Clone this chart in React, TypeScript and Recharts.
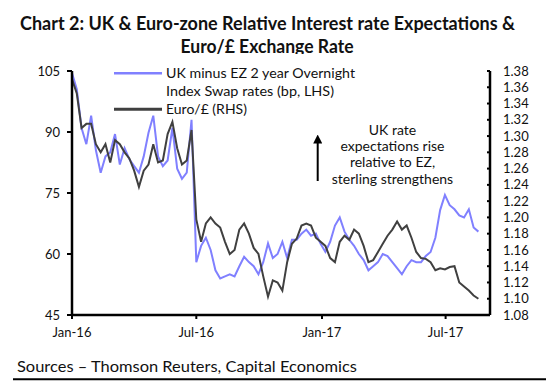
import React from 'react';
import { LineChart, Line, XAxis, YAxis } from 'recharts';

// ---- data ----
const startDate = '2016-01-01'; // weekly observations from this date
const axisEndDate = '2017-09-04';
const tickDates = ['2016-01-01', '2016-07-01', '2017-01-01', '2017-07-01'];
const tickLabels = ['Jan-16', 'Jul-16', 'Jan-17', 'Jul-17'];

// UK minus EZ 2 year Overnight Index Swap rates (bp, LHS)
const ukMinusEz = [
  104.5, 100.5, 91, 87, 94, 85.5, 80, 84, 85, 89.5,
  82, 86, 83.3, 81.6, 80, 84, 89.8, 94, 84, 81.6,
  83, 91, 81, 78.5, 80, 93, 58, 62, 64, 61,
  56, 54, 54.5, 55, 54.5, 57, 59.3, 58, 57, 55,
  58, 62.6, 59, 60, 63, 59, 63.5, 63.5, 65, 66,
  64.5, 65, 62.5, 60.5, 63, 67, 69, 65.5, 63.5, 62,
  60, 58.5, 56, 57, 58, 60, 59.5, 58, 56.5, 55,
  57, 58.5, 58, 58, 59.5, 60.5, 64, 70.8, 74.5, 72,
  71, 69.5, 69, 71, 66.5, 65.5,
];

// Euro/£ (RHS)
const euroGbp = [
  1.37, 1.3525, 1.31, 1.315, 1.315, 1.29, 1.28, 1.29, 1.2675, 1.295,
  1.29, 1.28, 1.2725, 1.2575, 1.2375, 1.2575, 1.265, 1.29, 1.2675, 1.27,
  1.3025, 1.3175, 1.285, 1.265, 1.27, 1.3075, 1.1975, 1.17, 1.1925, 1.2,
  1.1925, 1.1875, 1.17, 1.155, 1.16, 1.185, 1.1925, 1.18, 1.1625, 1.155,
  1.1275, 1.1025, 1.1225, 1.12, 1.11, 1.145, 1.1675, 1.174, 1.19, 1.1925,
  1.19, 1.175, 1.17, 1.165, 1.15, 1.145, 1.17, 1.1775, 1.1725, 1.185,
  1.18, 1.165, 1.145, 1.1475, 1.1575, 1.1675, 1.1775, 1.185, 1.195, 1.185,
  1.19, 1.175, 1.1575, 1.15, 1.149, 1.145, 1.135, 1.1375, 1.136, 1.139,
  1.14, 1.12, 1.115, 1.11, 1.104, 1.1,
];

const leftTicks = [45, 60, 75, 90, 105];
const rightTicks = [1.08, 1.1, 1.12, 1.14, 1.16, 1.18, 1.2, 1.22, 1.24, 1.26, 1.28, 1.3, 1.32, 1.34, 1.36, 1.38];

const titleLines = ['Chart 2: UK & Euro-zone Relative Interest rate Expectations &', 'Euro/£ Exchange Rate'];
const legendLines = ['UK minus EZ 2 year Overnight', 'Index Swap rates (bp, LHS)', 'Euro/£ (RHS)'];
const noteLines = ['UK rate', 'expectations rise', 'relative to EZ,', 'sterling strengthens'];
const sourceText = 'Sources – Thomson Reuters, Capital Economics';

// ---- build ----
const toTs = (s: string) => Date.parse(s + 'T00:00:00Z');
const WEEK = 7 * 86400000;
const data = ukMinusEz.map((v, i) => ({ t: toTs(startDate) + i * WEEK, uk: v, eur: euroGbp[i] }));
const xTicks = tickDates.map(toTs);
const labelOf = (ts: number) => {
  const i = xTicks.indexOf(ts);
  return i >= 0 ? tickLabels[i] : '';
};

const FONT = "Lato, 'Open Sans', 'DejaVu Sans', sans-serif";
const BLUE = '#8080ff';
const DARK = '#404040';

const RightTick = (props: any) => {
  const { x, y, payload } = props;
  return (
    <g>
      <line x1={x - 16} x2={x - 13} y1={y} y2={y} stroke="#000" strokeWidth={2} />
      <text x={x} y={y} dy="0.355em" textAnchor="start" fontSize={13} fill="#111" fontFamily={FONT}>
        {Number(payload.value).toFixed(2)}
      </text>
    </g>
  );
};

export default function App() {
  return (
    <div style={{ position: 'relative', width: 546, height: 390, background: '#fff', fontFamily: FONT }}>
      <style>{`body{margin:0;background:#fff;}`}</style>
      <LineChart width={546} height={390} data={data} margin={{ top: 71, right: 0, bottom: 45, left: 0 }}>
        <XAxis
          dataKey="t"
          type="number"
          scale="time"
          domain={[toTs(startDate), toTs(axisEndDate)]}
          ticks={xTicks}
          tickFormatter={labelOf}
          height={30}
          axisLine={{ stroke: '#000', strokeWidth: 2.5 }}
          tickLine={{ stroke: '#000', strokeWidth: 2 }}
          tickSize={4}
          tickMargin={9}
          tick={{ fontSize: 13, fill: '#111', fontFamily: FONT }}
          allowDataOverflow
        />
        <YAxis
          yAxisId="left"
          orientation="left"
          domain={[45, 105]}
          ticks={leftTicks}
          width={72}
          axisLine={{ stroke: '#000', strokeWidth: 2.5 }}
          tickLine={{ stroke: '#000', strokeWidth: 2 }}
          tickSize={5}
          tickMargin={7}
          tick={{ fontSize: 13, fill: '#111', fontFamily: FONT }}
          allowDataOverflow
        />
        <YAxis
          yAxisId="right"
          orientation="right"
          domain={[1.08, 1.38]}
          ticks={rightTicks}
          width={56}
          axisLine={{ stroke: '#000', strokeWidth: 2.5 }}
          tickLine={false}
          tickSize={8}
          tickMargin={5}
          tick={<RightTick />}
          interval={0}
          allowDataOverflow
        />
        <Line yAxisId="left" type="linear" dataKey="uk" stroke={BLUE} strokeWidth={2} dot={false} isAnimationActive={false} />
        <Line yAxisId="right" type="linear" dataKey="eur" stroke={DARK} strokeWidth={2} dot={false} isAnimationActive={false} />
      </LineChart>
      <svg width={546} height={390} style={{ position: 'absolute', left: 0, top: 0, pointerEvents: 'none' }}>
        <defs>
          <clipPath id="titleClip">
            <rect x={0} y={0} width={546} height={54} />
          </clipPath>
          <marker id="ah" viewBox="0 0 10 10" refX="5" refY="5" markerWidth="4.5" markerHeight="4.5" orient="auto-start-reverse">
            <path d="M0,0 L10,5 L0,10 z" fill="#000" />
          </marker>
        </defs>
        <g clipPath="url(#titleClip)" fontFamily={FONT} fontWeight={700} fontSize={18} fill="#111" textAnchor="middle">
          <text x={267.5} y={30} textLength={495} lengthAdjust="spacingAndGlyphs">{titleLines[0]}</text>
          <text x={267} y={53} textLength={173} lengthAdjust="spacingAndGlyphs">{titleLines[1]}</text>
        </g>
        {/* legend */}
        <line x1={114} x2={162} y1={73.3} y2={73.3} stroke={BLUE} strokeWidth={2.5} />
        <line x1={114} x2={162} y1={109.3} y2={109.3} stroke={DARK} strokeWidth={3} />
        <g fontFamily={FONT} fontSize={14} fill="#111">
          <text x={166} y={78} textLength={189} lengthAdjust="spacingAndGlyphs">{legendLines[0]}</text>
          <text x={166} y={96} textLength={168} lengthAdjust="spacingAndGlyphs">{legendLines[1]}</text>
          <text x={166} y={113.5}>{legendLines[2]}</text>
        </g>
        {/* annotation */}
        <line x1={317.7} x2={317.7} y1={181} y2={139} stroke="#000" strokeWidth={2} markerEnd="url(#ah)" />
        <g fontFamily={FONT} fontSize={14} fill="#111" textAnchor="middle">
          {noteLines.map((s, i) => (
            <text key={i} x={392.5} y={135 + i * 16.2}>{s}</text>
          ))}
        </g>
        {/* source */}
        <text x={17} y={371.5} fontFamily={FONT} fontSize={16} fill="#111" textLength={340} lengthAdjust="spacingAndGlyphs">{sourceText}</text>
        <line x1={13} x2={546} y1={379.3} y2={379.3} stroke="#000" strokeWidth={2} />
      </svg>
    </div>
  );
}
